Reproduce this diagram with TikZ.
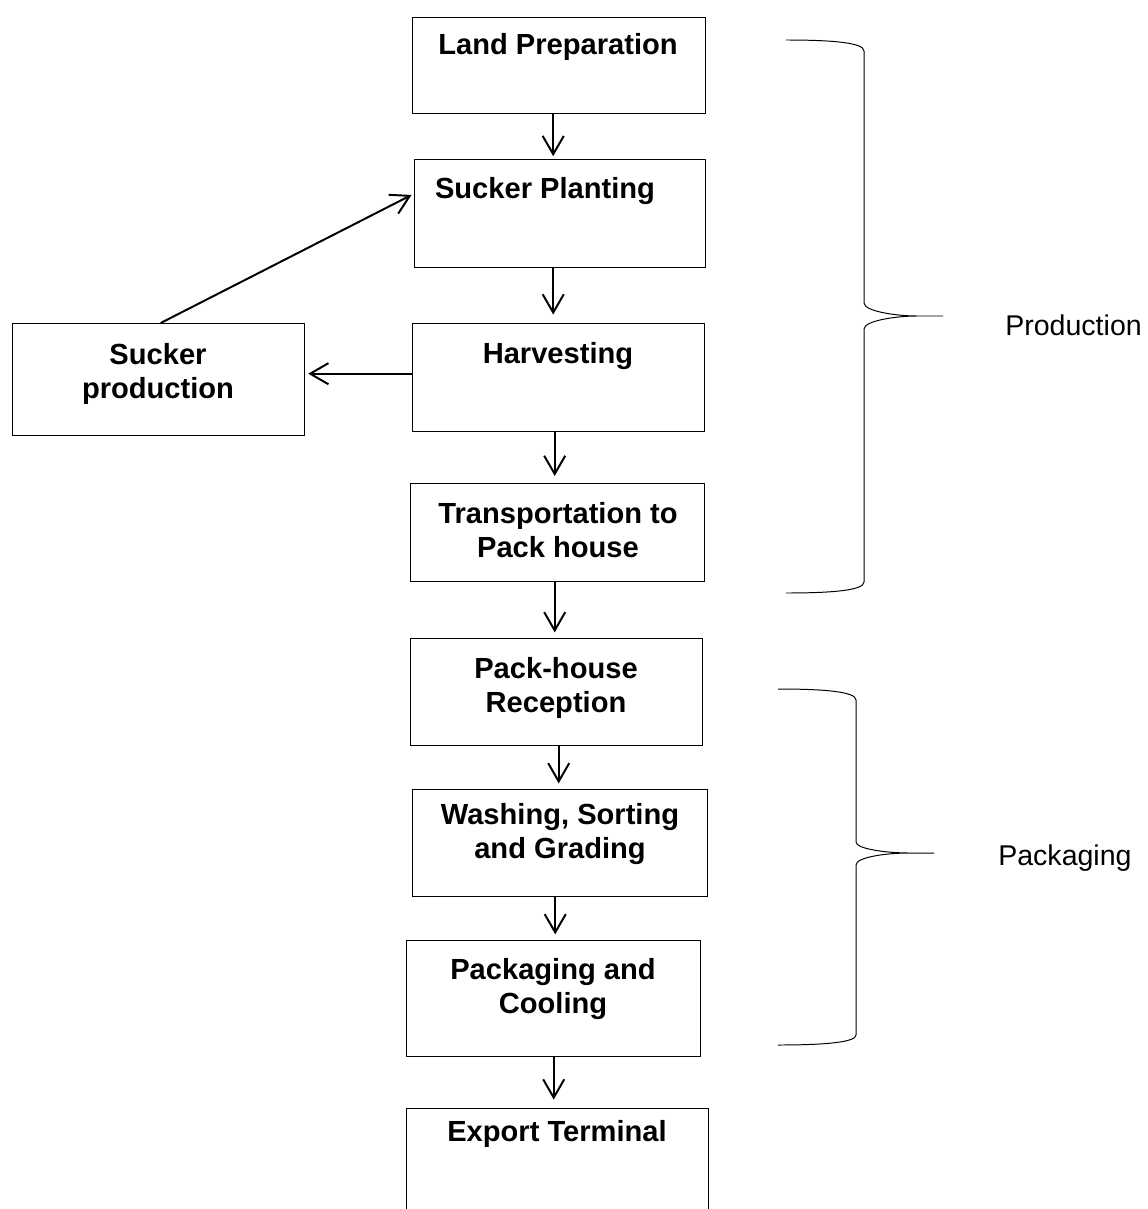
\documentclass[tikz,border=0pt]{standalone}
\usepackage{fontspec}
\setmainfont{Liberation Sans}
\usetikzlibrary{arrows.meta}
\newcommand\pxu{0.025cm}
\tikzset{
  stage/.style 2 args={draw, line width=1pt, anchor=north west, inner sep=0pt,
    minimum width=#1*\pxu, minimum height=#2*\pxu},
  stagetext/.style={anchor=north, inner sep=0pt, align=center,
    font=\bfseries\fontsize{20.7}{24.5}\selectfont},
  flow/.style={-{Straight Barb[length=13pt,width=15pt]}, line width=1.4pt, shorten >=#1},
  flow/.default=3.5pt,
  curly/.style={line width=0.7pt},
  phase/.style={anchor=base west, inner sep=0pt, font=\fontsize{20.3}{24}\selectfont}
}
\begin{document}
\begin{tikzpicture}[x=\pxu, y=-\pxu]
    \clip (0,0) rectangle (1147,1209);

    % Riquadri delle fasi
    \node[stage={293}{96}]  (land)      at (412,17)   {};
    \node[stage={291}{108}] (planting)  at (414,159)  {};
    \node[stage={292}{108}] (harvest)   at (412,323)  {};
    \node[stage={294}{98}]  (transport) at (410,483)  {};
    \node[stage={292}{107}] (reception) at (410,638)  {};
    \node[stage={295}{107}] (washing)   at (412,789)  {};
    \node[stage={294}{116}] (packcool)  at (406,940)  {};
    \node[stage={302}{140}] (export)    at (406,1108) {};
    \node[stage={292}{112}] (sucker)    at (12,323)   {};

    % Testi dei riquadri
    \node[stagetext] (land-t)      at (558,33)   {Land Preparation};
    \node[stagetext] (planting-t)  at (545,177)  {Sucker Planting};
    \node[stagetext] (harvest-t)   at (558,342)  {Harvesting};
    \node[stagetext] (transport-t) at (558,502)  {Transportation to\\Pack house};
    \node[stagetext] (reception-t) at (556,657)  {Pack-house\\Reception};
    \node[stagetext] (washing-t)   at (560,803)  {Washing, Sorting\\and Grading};
    \node[stagetext] (packcool-t)  at (553,958)  {Packaging and\\Cooling};
    \node[stagetext] (export-t)    at (557,1120) {Export Terminal};
    \node[stagetext] (sucker-t)    at (158,343)  {Sucker\\production};

    % Frecce del flusso
    \draw[flow=2pt] ([xshift=-6*\pxu]land.south) -- ([xshift=-6*\pxu]land.south |- planting.north);
    \draw[flow=6pt] ([xshift=-7*\pxu]planting.south) -- ([xshift=-7*\pxu]planting.south |- harvest.north);
    \draw[flow=5pt] ([xshift=-4*\pxu]harvest.south) -- ([xshift=-4*\pxu]harvest.south |- transport.north);
    \draw[flow=4pt] ([xshift=-3*\pxu]transport.south) -- ([xshift=-3*\pxu]transport.south |- reception.north);
    \draw[flow=4pt] ([xshift=2*\pxu]reception.south) -- ([xshift=2*\pxu]reception.south |- washing.north);
    \draw[flow=4pt] ([xshift=-5*\pxu]washing.south) -- ([xshift=-5*\pxu]washing.south |- packcool.north);
    \draw[flow=6pt] (packcool.south) -- (packcool.south |- export.north);
    \draw[flow=2pt] ([yshift=4*\pxu]harvest.west) -- ([yshift=4*\pxu]harvest.west -| sucker.east);
    \draw[flow=2pt] ([xshift=2*\pxu]sucker.north) -- ([yshift=20*\pxu]planting.west);

    % Parentesi delle fasi
    \coordinate (prod-tip) at (943,316);
    \coordinate (pack-tip) at (934,853);
    \draw[curly] (786,40) .. controls (835,40) and (864,43) .. (864,51) -- (864,303)
        .. controls (864,311) and (895,316) .. (917,316) -- (prod-tip) -- (917,316)
        .. controls (895,316) and (864,321) .. (864,329) -- (864,582)
        .. controls (864,590) and (835,593) .. (786,593);
    \draw[curly] (778,689) .. controls (827,689) and (856,692) .. (856,700) -- (856,842)
        .. controls (856,849) and (887,853) .. (909,853) -- (pack-tip) -- (909,853)
        .. controls (887,853) and (856,857) .. (856,865) -- (856,1035)
        .. controls (856,1042) and (827,1045) .. (778,1045);

    % Etichette delle fasi
    \node[phase] (prod-l) at (1005,335) {Production};
    \node[phase] (pack-l) at (998,865)  {Packaging};
\end{tikzpicture}
\end{document}
